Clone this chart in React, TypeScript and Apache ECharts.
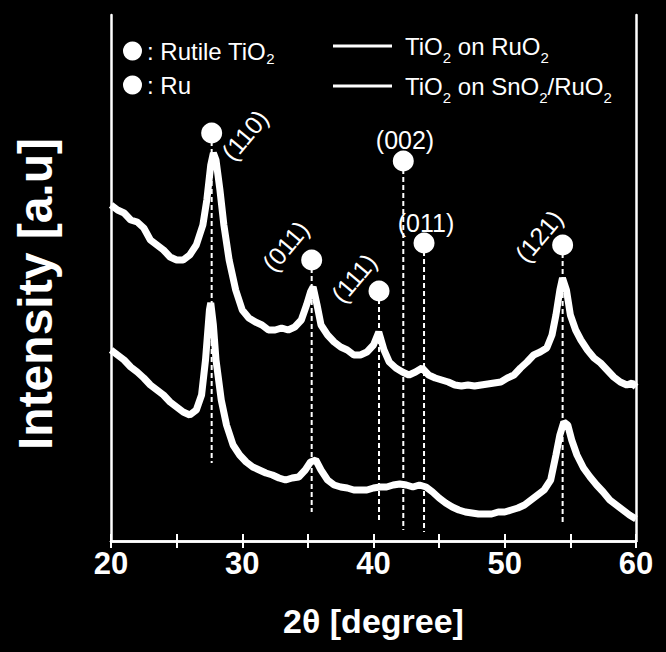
import React, { useEffect, useRef } from "react";
import * as echarts from "echarts";

// 2θ (degree), intensity (a.u.)
const tiO2OnRuO2: [number, number][] = [
  [20.0, 336], [20.5, 331], [21.0, 328], [21.5, 321], [22.0, 319], [22.5, 313], [23.0, 301],
  [23.5, 296], [24.0, 291], [24.5, 284], [25.0, 281], [25.5, 281], [26.0, 286], [26.5, 296],
  [27.0, 316], [27.3, 341], [27.6, 376], [27.8, 388], [28.0, 381], [28.3, 351], [28.6, 316],
  [29.0, 281], [29.5, 251], [30.0, 231], [30.5, 223], [31.0, 219], [31.5, 216], [32.0, 211],
  [32.5, 211], [33.0, 213], [33.5, 211], [34.0, 214], [34.5, 221], [34.9, 236], [35.2, 249],
  [35.4, 254], [35.7, 236], [36.0, 216], [36.5, 206], [37.0, 199], [37.5, 194], [38.0, 191],
  [38.5, 186], [39.0, 186], [39.5, 189], [40.0, 196], [40.4, 209], [40.8, 191], [41.2, 179],
  [41.7, 173], [42.2, 169], [42.7, 166], [43.2, 169], [43.7, 173], [44.2, 166], [44.7, 163],
  [45.2, 161], [45.7, 159], [46.2, 156], [46.7, 155], [47.2, 156], [47.7, 155], [48.2, 156],
  [48.7, 157], [49.2, 158], [49.7, 159], [50.2, 163], [50.7, 166], [51.2, 173], [51.7, 179],
  [52.2, 186], [52.7, 189], [53.2, 193], [53.6, 206], [53.9, 226], [54.2, 251], [54.4, 263],
  [54.7, 251], [55.0, 226], [55.4, 211], [55.8, 201], [56.3, 191], [56.8, 183], [57.3, 178],
  [57.8, 171], [58.3, 164], [58.8, 159], [59.3, 156], [59.7, 158], [60.0, 154],
];

const tiO2OnSnO2RuO2: [number, number][] = [
  [20.0, 191], [20.5, 186], [21.0, 181], [21.5, 174], [22.0, 169], [22.5, 163], [23.0, 156],
  [23.5, 151], [24.0, 146], [24.5, 139], [25.0, 134], [25.5, 129], [26.0, 126], [26.5, 131],
  [26.9, 146], [27.2, 181], [27.5, 231], [27.6, 238], [27.8, 216], [28.0, 181], [28.4, 141],
  [28.8, 116], [29.3, 96], [29.8, 86], [30.3, 79], [30.8, 74], [31.3, 71], [31.8, 68],
  [32.3, 66], [32.8, 63], [33.3, 61], [33.8, 63], [34.3, 64], [34.8, 71], [35.2, 79],
  [35.6, 81], [36.0, 71], [36.5, 61], [37.0, 56], [37.5, 54], [38.0, 53], [38.5, 51],
  [39.0, 51], [39.5, 51], [40.0, 53], [40.5, 54], [41.0, 54], [41.5, 56], [42.0, 57],
  [42.5, 56], [43.0, 54], [43.5, 56], [44.0, 54], [44.5, 49], [45.0, 43], [45.5, 38],
  [46.0, 34], [46.5, 31], [47.0, 29], [47.5, 28], [48.0, 27], [48.5, 27], [49.0, 27],
  [49.5, 29], [50.0, 29], [50.5, 31], [51.0, 33], [51.5, 36], [52.0, 41], [52.5, 46],
  [53.0, 51], [53.5, 61], [53.9, 86], [54.2, 106], [54.5, 119], [54.8, 116], [55.1, 101],
  [55.5, 86], [56.0, 73], [56.5, 64], [57.0, 56], [57.5, 49], [58.0, 41], [58.5, 36],
  [59.0, 31], [59.5, 26], [60.0, 22],
];

// reference peak markers: position, marker height, dashed line bottom
const rutilePeaks: [number, number, number][] = [
  [27.67, 408, 78], [35.29, 281, 29], [54.41, 296, 19],
];
const ruPeaks: [number, number, number][] = [
  [40.42, 250, 18], [42.27, 380, 11], [43.85, 298, 9],
];

// Miller index labels: text, x, y, rotation (deg)
const peakLabels: [string, number, number, number][] = [
  ["(110)", 30.2, 406, 50],
  ["(011)", 33.3, 295, 50],
  ["(111)", 38.5, 263, 50],
  ["(002)", 42.4, 401, 0],
  ["(011)", 44.0, 318, 0],
  ["(121)", 52.6, 305, 50],
];

const xTickValues = [20, 30, 40, 50, 60];

const legendRows: { name: string; left: number; top: number; kind: "marker" | "line" }[] = [
  { name: "Rutile TiO2", left: 123, top: 36, kind: "marker" },
  { name: "Ru", left: 123, top: 70, kind: "marker" },
  { name: "TiO2 on RuO2", left: 333, top: 27, kind: "line" },
  { name: "TiO2 on SnO2/RuO2", left: 333, top: 67, kind: "line" },
];

const FONT = "Liberation Sans, Arial, sans-serif";
const WHITE = "#ffffff";

export default function App() {
  const ref = useRef<HTMLDivElement>(null);

  useEffect(() => {
    document.body.style.margin = "0";
    document.body.style.background = "#000";
    const chart = echarts.init(ref.current!, undefined, { renderer: "svg" });

    const dashedSeries = [...rutilePeaks, ...ruPeaks].map(([x, top, bottom]) => ({
      type: "line",
      data: [[x, top], [x, bottom]],
      symbol: "none",
      silent: true,
      z: 1,
      lineStyle: { color: WHITE, width: 2, type: [5, 3] },
    }));

    const subFmt = (name: string) => name.replace(/O2/g, "O{sub|2}");

    const legends = legendRows.map((row) => {
      const marker = row.kind === "marker";
      const lh = marker ? 30 : 38;
      return {
        orient: "vertical",
        left: row.left,
        top: row.top,
        padding: 0,
        itemWidth: marker ? 19 : 59,
        itemHeight: marker ? 19 : 3,
        selectedMode: false,
        data: [{ name: row.name, icon: marker ? "circle" : "rect" }],
        formatter: (name: string) => (marker ? ": " : "") + subFmt(name),
        textStyle: {
          color: WHITE,
          fontSize: 24,
          fontFamily: FONT,
          lineHeight: lh,
          padding: marker ? [0, 0, 0, 0] : [0, 0, 0, 8],
          rich: {
            sub: { fontSize: 15, color: WHITE, fontFamily: FONT, verticalAlign: "bottom", lineHeight: lh },
          },
        },
      };
    });

    chart.setOption({
      animation: false,
      backgroundColor: "#000000",
      grid: { left: 111, right: 30, top: 15, bottom: 111 },
      xAxis: [
        {
          type: "value",
          min: 20,
          max: 60,
          interval: 10,
          name: "2θ [degree]",
          nameLocation: "middle",
          nameGap: 63,
          nameTextStyle: { color: WHITE, fontSize: 34, fontWeight: "bold", fontFamily: FONT },
          axisLine: { show: true, lineStyle: { color: WHITE, width: 2.5 } },
          axisTick: { show: true, inside: true, length: 7, lineStyle: { color: WHITE, width: 2 } },
          minorTick: { show: true, splitNumber: 2, length: 7, lineStyle: { color: WHITE, width: 2 } },
          axisLabel: {
            color: WHITE,
            fontSize: 31,
            fontWeight: "bold",
            fontFamily: FONT,
            margin: 7,
            formatter: (v: number) => (xTickValues.includes(v) ? String(v) : ""),
          },
          splitLine: { show: false },
        },
        {
          type: "value",
          position: "top",
          min: 20,
          max: 60,
          interval: 10,
          axisLine: { show: true, lineStyle: { color: WHITE, width: 2.5 } },
          axisTick: { show: true, inside: true, length: 7, lineStyle: { color: WHITE, width: 2 } },
          minorTick: { show: true, splitNumber: 2, length: 7, lineStyle: { color: WHITE, width: 2 } },
          axisLabel: { show: false },
          splitLine: { show: false },
        },
      ],
      yAxis: [
        {
          type: "value",
          min: 0,
          max: 526,
          name: "Intensity [a.u]",
          nameLocation: "middle",
          nameGap: 52,
          nameTextStyle: {
            color: WHITE,
            fontSize: 48,
            fontWeight: "bold",
            fontFamily: FONT,
            padding: [0, 32, 0, 0],
          },
          axisLine: { show: true, lineStyle: { color: WHITE, width: 2.5 } },
          axisTick: { show: false },
          axisLabel: { show: false },
          splitLine: { show: false },
        },
        {
          type: "value",
          position: "right",
          min: 0,
          max: 526,
          axisLine: { show: true, lineStyle: { color: WHITE, width: 2.5 } },
          axisTick: { show: false },
          axisLabel: { show: false },
          splitLine: { show: false },
        },
      ],
      legend: legends,
      series: [
        {
          name: "TiO2 on RuO2",
          type: "line",
          data: tiO2OnRuO2,
          symbol: "none",
          z: 2,
          lineStyle: { color: WHITE, width: 7 },
          itemStyle: { color: WHITE },
        },
        {
          name: "TiO2 on SnO2/RuO2",
          type: "line",
          data: tiO2OnSnO2RuO2,
          symbol: "none",
          z: 2,
          lineStyle: { color: WHITE, width: 7 },
          itemStyle: { color: WHITE },
        },
        ...dashedSeries,
        {
          name: "Rutile TiO2",
          type: "scatter",
          data: rutilePeaks.map(([x, top]) => [x, top]),
          symbol: "circle",
          symbolSize: 21,
          z: 5,
          itemStyle: { color: WHITE, opacity: 1 },
        },
        {
          name: "Ru",
          type: "scatter",
          data: ruPeaks.map(([x, top]) => [x, top]),
          symbol: "circle",
          symbolSize: 21,
          z: 5,
          itemStyle: { color: WHITE, opacity: 1 },
        },
        {
          type: "scatter",
          silent: true,
          symbolSize: 0,
          z: 6,
          itemStyle: { color: WHITE },
          data: peakLabels.map(([t, x, y, r]) => ({
            name: t,
            value: [x, y],
            label: { rotate: r },
          })),
          label: {
            show: true,
            position: "inside",
            formatter: (p: any) => p.name,
            color: WHITE,
            opacity: 1,
            textBorderWidth: 0,
            fontSize: 25,
            fontFamily: FONT,
          },
        },
      ],
    });

    return () => chart.dispose();
  }, []);

  return (
    <div
      ref={ref}
      style={{ position: "absolute", left: 0, top: 0, width: 666, height: 652, background: "#000" }}
    />
  );
}
